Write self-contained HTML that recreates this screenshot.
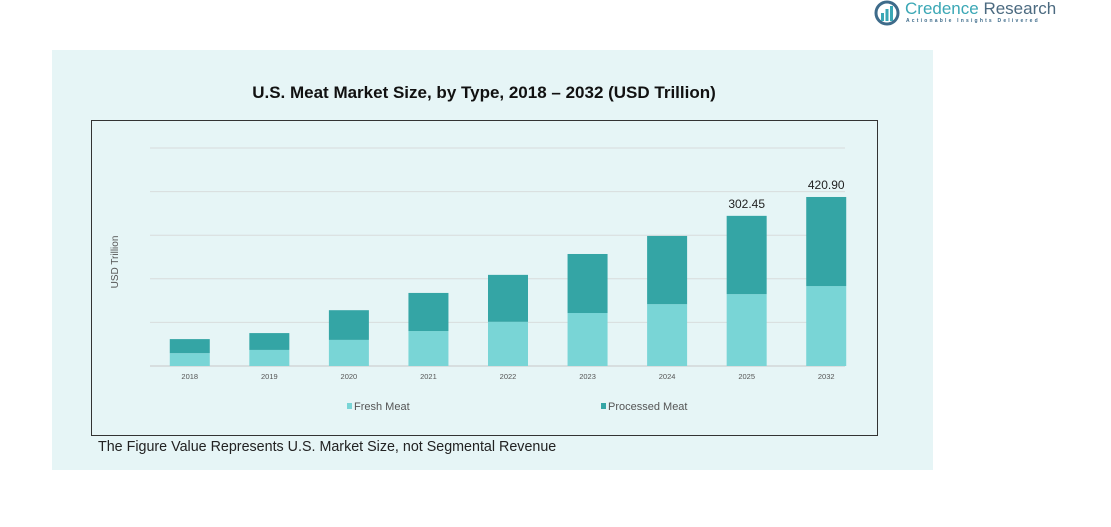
<!DOCTYPE html>
<html><head><meta charset="utf-8"><style>
body{margin:0;width:1111px;height:527px;background:#fff;font-family:"Liberation Sans",sans-serif;overflow:hidden;position:relative}
</style></head><body>
<div style="position:absolute;left:874px;top:0;width:190px;height:28px">
<svg width="28" height="28" style="position:absolute;left:0;top:0"><circle cx="13" cy="13" r="11" fill="none" stroke="#3e6b8a" stroke-width="3"/><rect x="7" y="13" width="3" height="8" fill="#3aa7b5"/><rect x="11.5" y="9" width="3" height="12" fill="#3aa7b5"/><rect x="16" y="6" width="3" height="15" fill="#3aa7b5"/></svg>
<div style="position:absolute;left:31px;top:-1px;font-size:17px;color:#3aa7b5;white-space:nowrap">Credence <span style="color:#4b6a80">Research</span></div>
<div style="position:absolute;left:32px;top:18px;font-size:5px;letter-spacing:2.2px;color:#3e6b8a;white-space:nowrap;font-weight:bold">Actionable Insights Delivered</div>
</div>
<div style="position:absolute;left:52px;top:50px;width:881px;height:420px;background:#e6f5f6"></div>
<div style="position:absolute;left:91px;top:83px;width:786px;text-align:center;font-weight:bold;font-size:17px;color:#111">U.S. Meat Market Size, by Type, 2018 – 2032 (USD Trillion)</div>
<div style="position:absolute;left:91px;top:120px;width:785px;height:314px;border:1px solid #333"></div>
<svg id="chart" width="1111" height="527" style="position:absolute;left:0;top:0"></svg>
<div style="position:absolute;left:98px;top:439px;font-size:14.3px;color:#222">The Figure Value Represents U.S. Market Size, not Segmental Revenue</div>
<script>
const categories=["2018","2019","2020","2021","2022","2023","2024","2025","2032"];
const fresh=[32,40,65,87,110,132,154,179,199];
const processed=[35,42,74,95,117,147,170,195,222];
const totalLabels=["","","","","","","","302.45","420.90"];
const yMax=543;
const svg=document.getElementById('chart');
const NS='http://www.w3.org/2000/svg';
const x0=150,x1=866,base=366,plotTop=148;
const band=(x1-x0)/categories.length;
const xc=i=>x0+band*(i+0.5);
const y=v=>base-(v/yMax)*(base-plotTop);
function mk(t,a){const e=document.createElementNS(NS,t);for(const k in a)e.setAttribute(k,a[k]);svg.appendChild(e);return e;}
for(let g=0;g<=5;g++){const yy=base-g*(base-plotTop)/5;const l=mk('line',{x1:150,x2:845,y1:yy,y2:yy,stroke:g==0?'#c8c8c8':'#d8dcdc','stroke-width':1});

}
const yt=mk('text',{x:118,y:262,'font-size':10,fill:'#555','text-anchor':'middle',transform:'rotate(-90 118 262)'});yt.textContent='USD Trillion';


categories.forEach((c,i)=>{
 const cx=xc(i),w=40;
 const r1=mk('rect',{x:cx-w/2,y:y(fresh[i]),width:w,height:base-y(fresh[i]),fill:'#79d5d6'});
 
 
 const tt=fresh[i]+processed[i];
 const r2=mk('rect',{x:cx-w/2,y:y(tt),width:w,height:y(fresh[i])-y(tt),fill:'#34a5a5'});
 
 
 const t=mk('text',{x:cx,y:379,'font-size':7.5,fill:'#555','text-anchor':'middle'});t.textContent=c;
 
 
 if(totalLabels[i]){const v=mk('text',{x:cx,y:y(tt)-8,'font-size':12,fill:'#222','text-anchor':'middle'});v.textContent=totalLabels[i];
 
 }
});
[['Fresh Meat','#79d5d6',347],['Processed Meat','#34a5a5',601]].forEach(([n,col,lx])=>{
 const r=mk('rect',{x:lx,y:403,width:5,height:6,fill:col});
 
 
 const t=mk('text',{x:lx+7,y:410,'font-size':11,fill:'#555'});t.textContent=n;
 
 
});
</script>
</body></html>
